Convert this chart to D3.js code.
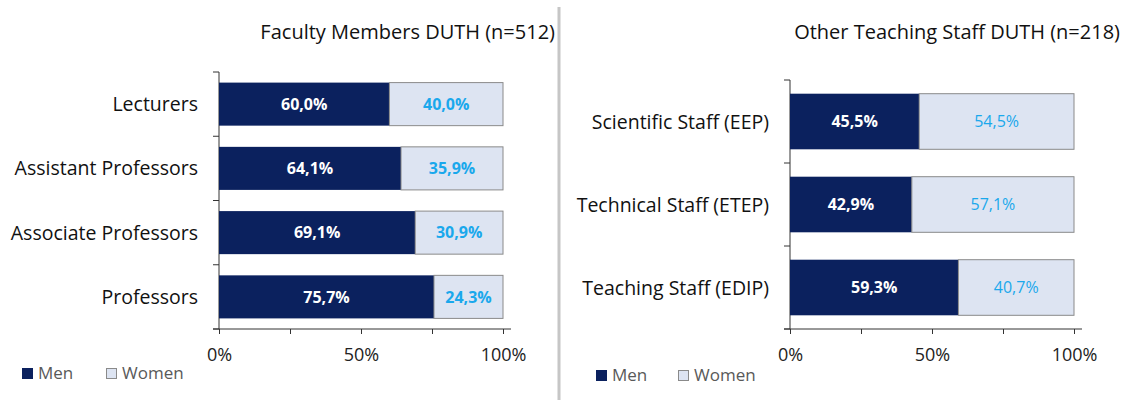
<!DOCTYPE html>
<html>
<head>
<meta charset="utf-8">
<script src="https://cdn.jsdelivr.net/npm/d3@7"></script>
<style>
  body { margin: 0; background: #fff; }
  svg { display: block; font-family: "Open Sans", Lato, sans-serif; }
</style>
</head>
<body>
<script>
// faculty members
let facultyCats = ["Lecturers", "Assistant Professors", "Associate Professors", "Professors"]
let facultyMen = [60.0, 64.1, 69.1, 75.7]
let facultyWomen = [40.0, 35.9, 30.9, 24.3]

// other teaching staff
let staffCats = ["Scientific Staff (EEP)", "Technical Staff (ETEP)", "Teaching Staff (EDIP)"]
let staffMen = [45.5, 42.9, 59.3]
let staffWomen = [54.5, 57.1, 40.7]

let xTicks = [0, 25, 50, 75, 100]
let xTickLabels = ["0%", "", "50%", "", "100%"]
let seriesNames = ["Men", "Women"]

const width = 1132
const height = 400
const menColor = "#0b215e"
const womenColor = "#dde4f2"
const womenText = "#1aa8ec"
const font = "'Open Sans', sans-serif"

let svg = d3.select("body")
    .append("svg")
    .attr("width", width)
    .attr("height", height)

// separator between the two charts
svg.append("line")
    .attr("x1", 559).attr("x2", 559)
    .attr("y1", 7).attr("y2", height)
    .attr("stroke", "#c6c6c6")
    .attr("stroke-width", 3)

let pct = v => d3.format(".1f")(v).replace(".", ",") + "%"

function drawPanel(opts) {
    let x = d3.scaleLinear().domain([0, 100]).range([opts.x0, opts.x1])
    let y = d3.scaleBand().domain(opts.cats).range([opts.y0, opts.y1])
        .paddingInner(0.33).paddingOuter(0.165)
    let g = svg.append("g")

    // title
    g.append("text")
        .attr("x", opts.titleX)
        .attr("y", 39)
        .attr("text-anchor", "end")
        .attr("font-size", "20px")
        .attr("fill", "#111")
        .text(opts.title)

    // x axis
    let xAxis = g.append("g")
        .attr("transform", `translate(0,${opts.y1})`)
        .call(d3.axisBottom(x).tickValues(xTicks).tickSize(5).tickSizeOuter(0)
            .tickFormat((d, i) => xTickLabels[i]))
    xAxis.select(".domain").remove()
    xAxis.append("line")
        .attr("x1", opts.x0 - 6).attr("x2", opts.x1 + 8)
        .attr("stroke", "#333")
    xAxis.selectAll(".tick line").attr("stroke", "#333")
    xAxis.selectAll(".tick text")
        .attr("y", 19)
        .attr("dy", "0.71em")
        .attr("font-size", "18px")
        .attr("font-family", font)
        .attr("fill", "#222")

    // y axis: ticks on band boundaries
    let half = y.step() * y.paddingInner() / 2
    let bounds = opts.cats.map(c => y(c) - half)
    bounds.push(opts.y1)
    g.append("line")
        .attr("x1", opts.x0).attr("x2", opts.x0)
        .attr("y1", opts.y0).attr("y2", opts.y1)
        .attr("stroke", "#333")
    g.selectAll(".ytick")
        .data(bounds)
        .enter()
        .append("line")
        .attr("x1", opts.x0 - 6).attr("x2", opts.x0)
        .attr("y1", d => d).attr("y2", d => d)
        .attr("stroke", "#333")

    g.selectAll(".cat")
        .data(opts.cats)
        .enter()
        .append("text")
        .attr("x", opts.x0 - 21)
        .attr("y", d => y(d) + y.bandwidth() / 2)
        .attr("dy", "0.36em")
        .attr("text-anchor", "end")
        .attr("font-size", "19.5px")
        .attr("fill", "#111")
        .text(d => d)

    // bars
    g.selectAll(".men")
        .data(opts.cats)
        .enter()
        .append("rect")
        .attr("x", x(0))
        .attr("y", d => y(d))
        .attr("width", (d, i) => x(opts.men[i]) - x(0))
        .attr("height", y.bandwidth())
        .attr("fill", menColor)
    g.selectAll(".women")
        .data(opts.cats)
        .enter()
        .append("rect")
        .attr("x", (d, i) => x(opts.men[i]))
        .attr("y", d => y(d))
        .attr("width", (d, i) => x(opts.men[i] + opts.women[i]) - x(opts.men[i]))
        .attr("height", y.bandwidth())
        .attr("fill", womenColor)
        .attr("stroke", "#8a8a8a")
        .attr("stroke-width", 1)

    // value labels
    g.selectAll(".menLbl")
        .data(opts.cats)
        .enter()
        .append("text")
        .attr("x", (d, i) => x(opts.men[i] / 2))
        .attr("y", d => y(d) + y.bandwidth() / 2)
        .attr("dy", "0.36em")
        .attr("text-anchor", "middle")
        .attr("font-size", "16px")
        .attr("font-weight", "bold")
        .attr("fill", "#fff")
        .text((d, i) => pct(opts.men[i]))
    g.selectAll(".womenLbl")
        .data(opts.cats)
        .enter()
        .append("text")
        .attr("x", (d, i) => x(opts.men[i] + opts.women[i] / 2))
        .attr("y", d => y(d) + y.bandwidth() / 2)
        .attr("dy", "0.36em")
        .attr("text-anchor", "middle")
        .attr("font-size", "16px")
        .attr("font-weight", opts.womenBold ? "bold" : "normal")
        .attr("fill", womenText)
        .text((d, i) => pct(opts.women[i]))

    // legend
    let lg = g.append("g").attr("transform", `translate(${opts.legX},${opts.legY})`)
    seriesNames.forEach((s, i) => {
        let ox = i * opts.legGap
        lg.append("rect")
            .attr("x", ox + 0.5).attr("y", 0.5)
            .attr("width", 10).attr("height", 10)
            .attr("fill", i == 0 ? menColor : womenColor)
            .attr("stroke", i == 0 ? menColor : "#8a8a8a")
        lg.append("text")
            .attr("x", ox + 16)
            .attr("y", 11)
            .attr("font-size", "17px")
            .attr("fill", "#595959")
            .text(s)
    })
}

drawPanel({
    cats: facultyCats, men: facultyMen, women: facultyWomen,
    x0: 219, x1: 503, y0: 72, y1: 329,
    title: "Faculty Members DUTH (n=512)", titleX: 555,
    womenBold: true,
    legX: 22, legY: 368, legGap: 84
})

drawPanel({
    cats: staffCats, men: staffMen, women: staffWomen,
    x0: 790, x1: 1074, y0: 80, y1: 329,
    title: "Other Teaching Staff DUTH (n=218)", titleX: 1120,
    womenBold: false,
    legX: 596, legY: 370, legGap: 82
})
</script>
</body>
</html>
